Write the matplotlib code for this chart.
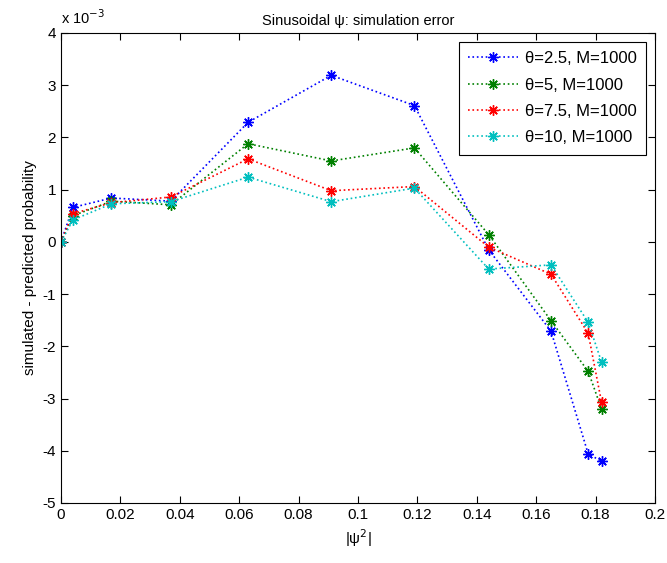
import matplotlib
matplotlib.use("Agg")
import matplotlib.pyplot as plt

plt.rcParams['font.family'] = ['Liberation Sans', 'DejaVu Sans']
plt.rcParams['axes.unicode_minus'] = False

x = [0, 0.004, 0.017, 0.037, 0.063, 0.091, 0.119, 0.144, 0.165, 0.1775, 0.182]
# values in units of 1e-3
y_theta25 = [0, 0.66, 0.84, 0.78, 2.29, 3.19, 2.61, -0.15, -1.71, -4.06, -4.20]
y_theta5 = [0, 0.50, 0.78, 0.71, 1.88, 1.55, 1.80, 0.14, -1.51, -2.48, -3.20]
y_theta75 = [0, 0.54, 0.75, 0.86, 1.59, 0.98, 1.06, -0.10, -0.62, -1.75, -3.07]
y_theta10 = [0, 0.42, 0.73, 0.77, 1.24, 0.77, 1.03, -0.52, -0.44, -1.54, -2.30]

labels = ['θ=2.5, M=1000', 'θ=5, M=1000', 'θ=7.5, M=1000', 'θ=10, M=1000']
colors = ['#0000ff', '#008000', '#ff0000', '#00bfbf']
series = [y_theta25, y_theta5, y_theta75, y_theta10]

xticks = [0, 0.02, 0.04, 0.06, 0.08, 0.1, 0.12, 0.14, 0.16, 0.18, 0.2]
xticklabels = ['0', '0.02', '0.04', '0.06', '0.08', '0.1', '0.12', '0.14', '0.16', '0.18', '0.2']
yticks = [-5, -4, -3, -2, -1, 0, 1, 2, 3, 4]

fig = plt.figure(figsize=(6.67, 5.63), dpi=100)
ax = fig.add_axes([61/667, 1-503/563, (655-61)/667, (503-33)/563])

for ys, c, lab in zip(series, colors, labels):
    ax.plot(x, ys, linestyle=':', color=c, linewidth=1.2, marker=(8, 2, 0),
            markersize=7.5, markeredgewidth=1.0, label=lab)

ax.set_xlim(0, 0.2)
ax.set_ylim(-5, 4)
ax.set_xticks(xticks)
ax.set_xticklabels(xticklabels)
ax.set_yticks(yticks)
ax.tick_params(direction='in', top=True, right=True, length=5, labelsize=11, width=0.8)
for s in ax.spines.values():
    s.set_linewidth(0.8)

ax.set_title('Sinusoidal ψ: simulation error', fontsize=10.5, pad=6)
ax.set_xlabel('|ψ$^2$|', fontsize=11)
ax.set_ylabel('simulated - predicted probability', fontsize=11)
ax.text(0.0, 1.012, 'x 10$^{-3}$', transform=ax.transAxes, fontsize=10.5, ha='left', va='bottom')

leg = ax.legend(loc='upper right', fontsize=12, frameon=True, fancybox=False,
                edgecolor='black', framealpha=1, borderaxespad=0.55,
                handlelength=3.0, handletextpad=0.4, labelspacing=0.68, borderpad=0.55)
leg.get_frame().set_linewidth(0.8)

fig.savefig('out.png', dpi=100)
